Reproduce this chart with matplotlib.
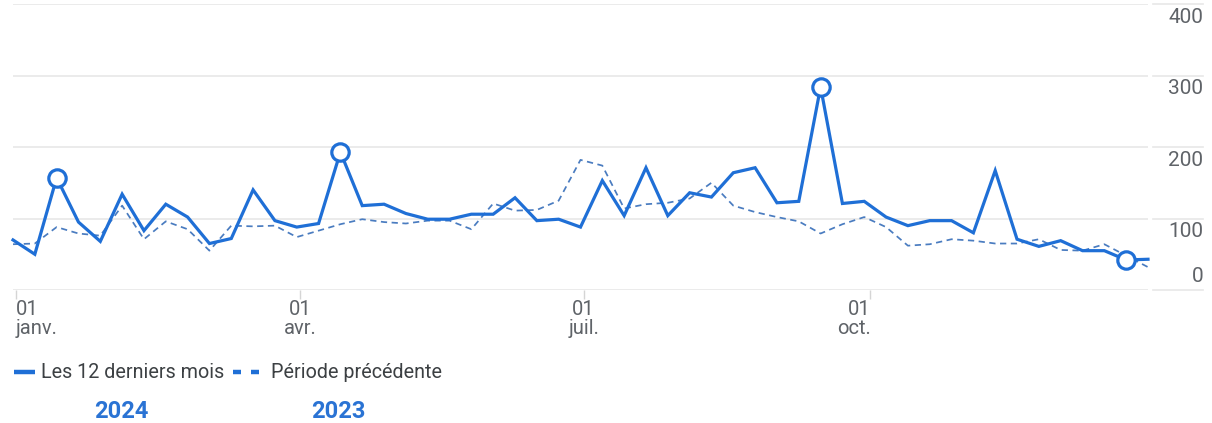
import matplotlib
matplotlib.use("Agg")
import matplotlib.pyplot as plt
import matplotlib.transforms as mtransforms
from matplotlib.lines import Line2D
import numpy as np
import pandas as pd

plt.rcParams['font.family'] = ['Roboto', 'DejaVu Sans']

# ---- data ----
start_date = "2023-12-31"
n_weeks = 53
current = [70, 50, 157, 95, 68, 134, 83, 120, 102, 65, 72, 140, 97, 88,
           93, 193, 118, 120, 107, 99, 99, 106, 106, 129, 97, 99, 88,
           153, 104, 171, 104, 136, 130, 164, 171, 122, 124, 284, 121, 124,
           102, 90, 97, 97, 80, 167, 71, 61, 69, 55, 55, 42, 43]
previous = [64, 65, 88, 79, 76, 118, 71, 96, 85, 55, 90, 89, 90, 74,
            83, 92, 99, 95, 93, 97, 97, 85, 121, 111, 112, 125, 182,
            174, 114, 120, 122, 128, 150, 118, 109, 102, 96, 79, 92, 102,
            88, 62, 64, 71, 69, 65, 65, 71, 56, 55, 64, 48, 32]
highlight_idx = [2, 15, 37, 51]
y_ticks = [0, 100, 200, 300, 400]
x_tick_dates = ["2024-01-01", "2024-04-01", "2024-07-01", "2024-10-01"]
x_tick_labels = ["01\njanv.", "01\navr.", "01\njuil.", "01\noct."]
x_tick_ha = ["left", "center", "center", "right"]
legend_labels = ["Les 12 derniers mois", "Période précédente"]
year_labels = ["2024", "2023"]

dates = pd.date_range(start_date, periods=n_weeks, freq="7D")

BLUE = "#1f6fd6"
DASH_BLUE = "#4a7cc0"
GRID = "#e8e8e8"
TXT = "#5f6368"
DARK = "#3c4043"

W, H = 1212, 423
fig = plt.figure(figsize=(W / 100, H / 100), dpi=100)
ax = fig.add_axes([13 / W, 133 / H, 1135 / W, 286 / H])
ax.set_xlim(dates[0], dates[-1])
ax.set_ylim(0, 400)
for s in ax.spines.values():
    s.set_visible(False)

blend = mtransforms.blended_transform_factory(ax.transAxes, ax.transData)
for v in y_ticks:
    ax.axhline(v, color=GRID, lw=1.2, zorder=0)
    ax.plot([1.0044, 1.0485], [v, v], color=GRID, lw=1.2, transform=blend,
            clip_on=False, zorder=0)
    dy = 13 / 100 if v == 0 else -13 / 100
    off = mtransforms.ScaledTranslation(0, dy, fig.dpi_scale_trans)
    ax.text(1.0485, v, str(v), transform=blend + off, ha="right", va="center",
            fontsize=15, color=TXT)

ax.set_yticks([])
ax.set_xticks(pd.to_datetime(x_tick_dates))
ax.set_xticklabels(x_tick_labels, fontsize=14.5, color=TXT, linespacing=0.95)
for lbl, ha in zip(ax.get_xticklabels(), x_tick_ha):
    lbl.set_ha(ha)
ax.tick_params(axis="x", length=6.5, width=1, color="#d5d5d5", pad=1)

ax.plot(dates, previous, color=DASH_BLUE, lw=1.25, dashes=(3.6, 2.6), zorder=2)
ax.plot(dates, current, color=BLUE, lw=2.3, zorder=3, solid_joinstyle="miter",
        clip_on=False)
ax.plot(dates[highlight_idx], np.array(current)[highlight_idx], "o", ms=12.5,
        mfc="white", mec=BLUE, mew=2.3, zorder=5, clip_on=False)

# ---- legend ----
def fx(px):
    return px / W

def fy(py):
    return 1 - py / H

fig.add_artist(Line2D([fx(14), fx(35)], [fy(372), fy(372)], color=BLUE, lw=3.2,
                      solid_capstyle="butt", transform=fig.transFigure))
fig.text(fx(41), fy(372), legend_labels[0], ha="left", va="center",
         fontsize=14.2, color=DARK)
for a, b in [(233, 241), (251, 259)]:
    fig.add_artist(Line2D([fx(a), fx(b)], [fy(372), fy(372)], color=BLUE,
                          lw=3.2, solid_capstyle="butt", transform=fig.transFigure))
fig.text(fx(271), fy(372), legend_labels[1], ha="left", va="center",
         fontsize=14.2, color=DARK)

fig.text(fx(121), fy(411), year_labels[0], ha="center", va="center",
         fontsize=17, fontweight="bold", color="#2a73d4")
fig.text(fx(338), fy(411), year_labels[1], ha="center", va="center",
         fontsize=17, fontweight="bold", color="#2a73d4")

fig.savefig("out.png", dpi=100)
